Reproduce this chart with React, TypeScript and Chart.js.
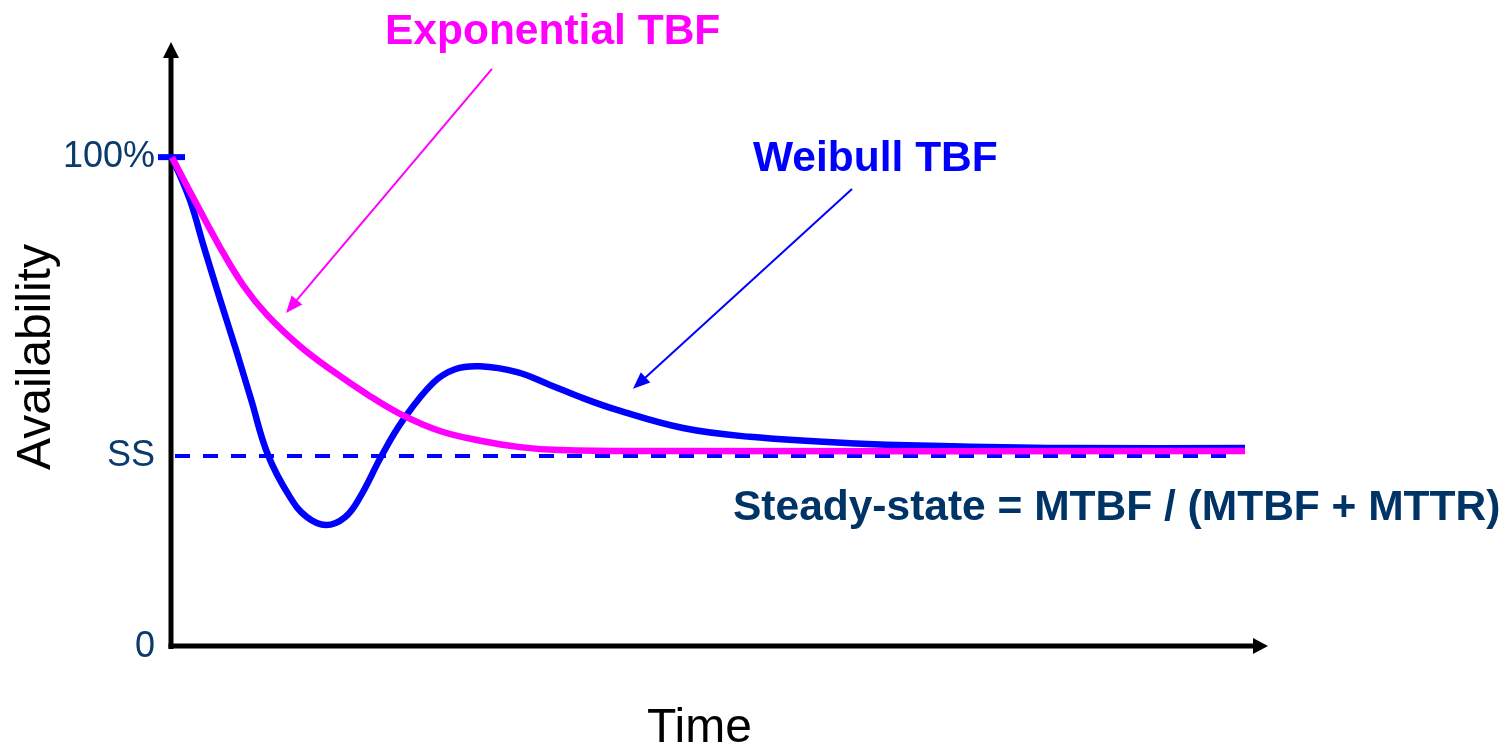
import React, { useEffect, useRef } from "react";
import { Chart, registerables } from "chart.js";

Chart.register(...registerables);

// ---- Data (time in arbitrary units, availability in %) ----
const WEIBULL_TIME = [0, 1.8, 3.2, 4.8, 6.5, 7.9, 9.6, 11.8, 13.5, 15.4, 17.3, 18.8, 21.0, 23.1, 26.1, 28.3, 30.8, 34.5, 37.8, 41.1, 44.5, 51.1, 57.8, 67.8, 77.8, 90.1, 107.3];
const WEIBULL_AVAIL = [100, 91.2, 81.6, 71.0, 60.0, 50.6, 39.2, 30.6, 26.5, 24.9, 26.5, 30.6, 39.2, 46.3, 53.9, 56.7, 57.3, 56.1, 53.5, 50.8, 48.4, 44.7, 42.9, 41.6, 41.0, 40.6, 40.6];

const EXPO_TIME = [0, 2.1, 4.8, 7.1, 9.5, 12.8, 16.1, 19.5, 22.8, 26.8, 31.1, 34.8, 38.8, 47.8, 107.3];
const EXPO_AVAIL = [100, 91.8, 81.6, 73.9, 67.8, 61.4, 56.3, 51.6, 47.6, 44.1, 42.0, 40.8, 40.2, 40.0, 40.0];

const STEADY_STATE = 39.0;
const SS_LINE_TIME = [0.3, 105.5];
const MARKER_TIME = [-1.4, 1.3];
const MARKER_VALUE = 100;

const Y_TICK_VALUES = [0, STEADY_STATE, 100];
const Y_TICK_LABELS = ["0", "SS", "100%"];

const X_MAX = 105.5;
const Y_MAX = 118.4;
const AXIS_X_TIP = 109.6;
const AXIS_Y_TIP = 123.5;

const LABEL_TEXTS = ["Exponential TBF", "Weibull TBF", "Steady-state = MTBF / (MTBF + MTTR)"];
const LABEL_X = [21.3, 58.1, 56.1];
const LABEL_Y = [123.06, 97.14, 25.92];
const LABEL_COLORS = ["#FF00FF", "#0000FF", "#003366"];

const ARROW_FROM_X = [32.0, 68.0];
const ARROW_FROM_Y = [118.0, 93.5];
const ARROW_TO_X = [11.4, 46.1];
const ARROW_TO_Y = [68.2, 52.7];
const ARROW_COLORS = ["#FF00FF", "#0000FF"];

const FONT = '"Liberation Sans", Arial, Helvetica, sans-serif';

function drawArrow(ctx: CanvasRenderingContext2D, x1: number, y1: number, x2: number, y2: number, lw: number, headLen: number, headHalf: number, color: string) {
  const ang = Math.atan2(y2 - y1, x2 - x1);
  const bx = x2 - Math.cos(ang) * headLen;
  const by = y2 - Math.sin(ang) * headLen;
  ctx.strokeStyle = color;
  ctx.fillStyle = color;
  ctx.lineWidth = lw;
  ctx.lineCap = "butt";
  ctx.beginPath();
  ctx.moveTo(x1, y1);
  ctx.lineTo(bx + Math.cos(ang) * 2, by + Math.sin(ang) * 2);
  ctx.stroke();
  ctx.beginPath();
  ctx.moveTo(x2, y2);
  ctx.lineTo(bx + Math.sin(ang) * headHalf, by - Math.cos(ang) * headHalf);
  ctx.lineTo(bx - Math.sin(ang) * headHalf, by + Math.cos(ang) * headHalf);
  ctx.closePath();
  ctx.fill();
}

const axesPlugin = {
  id: "axesPlugin",
  beforeDatasetsDraw(chart: any) {
    const { ctx, scales } = chart;
    const xs = scales.x;
    const ys = scales.y;
    const ax = xs.getPixelForValue(0) - 1;
    const ay = ys.getPixelForValue(0) - 1;
    const yTip = ys.getPixelForValue(AXIS_Y_TIP);
    const xTip = xs.getPixelForValue(AXIS_X_TIP);
    ctx.save();
    drawArrow(ctx, ax, ay + 3, ax, yTip, 5, 16, 8, "#000000");
    drawArrow(ctx, ax - 2.5, ay, xTip, ay, 5, 15, 8, "#000000");
    ctx.restore();
  },
  afterDatasetsDraw(chart: any) {
    const { ctx, scales } = chart;
    const xs = scales.x;
    const ys = scales.y;
    ctx.save();
    for (let i = 0; i < ARROW_FROM_X.length; i++) {
      drawArrow(
        ctx,
        xs.getPixelForValue(ARROW_FROM_X[i]),
        ys.getPixelForValue(ARROW_FROM_Y[i]),
        xs.getPixelForValue(ARROW_TO_X[i]),
        ys.getPixelForValue(ARROW_TO_Y[i]),
        2,
        17,
        7,
        ARROW_COLORS[i]
      );
    }
    ctx.font = `bold 42.5px ${FONT}`;
    ctx.textAlign = "left";
    ctx.textBaseline = "alphabetic";
    for (let i = 0; i < LABEL_TEXTS.length; i++) {
      ctx.fillStyle = LABEL_COLORS[i];
      ctx.fillText(LABEL_TEXTS[i], xs.getPixelForValue(LABEL_X[i]), ys.getPixelForValue(LABEL_Y[i]));
    }
    ctx.restore();
  },
};

export default function App() {
  const canvasRef = useRef<HTMLCanvasElement | null>(null);

  useEffect(() => {
    if (!canvasRef.current) return;
    const toPoints = (xs: number[], ys: number[]) => xs.map((x, i) => ({ x, y: ys[i] }));
    const chart = new Chart(canvasRef.current, {
      type: "line",
      data: {
        datasets: [
          {
            label: "Exponential TBF",
            data: toPoints(EXPO_TIME, EXPO_AVAIL),
            borderColor: "#FF00FF",
            borderWidth: 6.5,
            pointRadius: 0,
            tension: 0.4,
            fill: false,
            clip: false,
            order: 0,
          },
          {
            label: "Weibull TBF",
            data: toPoints(WEIBULL_TIME, WEIBULL_AVAIL),
            borderColor: "#0000FF",
            borderWidth: 6.5,
            pointRadius: 0,
            tension: 0.4,
            fill: false,
            clip: false,
            order: 1,
          },
          {
            label: "Steady state",
            data: toPoints(SS_LINE_TIME, [STEADY_STATE, STEADY_STATE]),
            borderColor: "#0000FF",
            borderWidth: 4,
            borderDash: [15, 13],
            pointRadius: 0,
            fill: false,
            clip: false,
            order: 2,
          },
          {
            label: "100% marker",
            data: toPoints(MARKER_TIME, [MARKER_VALUE, MARKER_VALUE]),
            borderColor: "#0000FF",
            borderWidth: 6,
            borderCapStyle: "butt",
            pointRadius: 0,
            fill: false,
            clip: false,
            order: 3,
          },
        ],
      },
      options: {
        animation: false,
        responsive: true,
        maintainAspectRatio: false,
        layout: { padding: { left: 0, right: 284, top: 67, bottom: 0 } },
        elements: { line: { capBezierPoints: false } },
        plugins: {
          legend: { display: false },
          tooltip: { enabled: false },
        },
        scales: {
          x: {
            type: "linear",
            min: 0,
            max: X_MAX,
            grid: { display: false, drawTicks: false },
            border: { display: false },
            ticks: { display: false },
            title: {
              display: true,
              text: "Time",
              color: "#000000",
              font: { family: FONT, size: 48, lineHeight: 1 },
              padding: { top: 0, bottom: 1 },
            },
            afterFit: (scale: any) => {
              scale.height = 107;
            },
          },
          y: {
            type: "linear",
            min: 0,
            max: Y_MAX,
            grid: { display: false, drawTicks: false },
            border: { display: false },
            afterBuildTicks: (scale: any) => {
              scale.ticks = Y_TICK_VALUES.map((v) => ({ value: v }));
            },
            ticks: {
              autoSkip: false,
              padding: 17,
              color: "#0B3A6C",
              font: { family: FONT, size: 36 },
              callback: (value: any) => {
                const idx = Y_TICK_VALUES.indexOf(Number(value));
                return idx >= 0 ? Y_TICK_LABELS[idx] : "";
              },
            },
            title: {
              display: true,
              text: "Availability",
              color: "#000000",
              font: { family: FONT, size: 48, lineHeight: 1 },
              padding: { top: 13, bottom: 0 },
            },
            afterFit: (scale: any) => {
              scale.width = 172;
            },
          },
        },
      },
      plugins: [axesPlugin],
    });
    return () => chart.destroy();
  }, []);

  return (
    <div style={{ position: "absolute", left: 0, top: 0, width: 1511, height: 754, background: "#ffffff" }}>
      <canvas ref={canvasRef} />
    </div>
  );
}
